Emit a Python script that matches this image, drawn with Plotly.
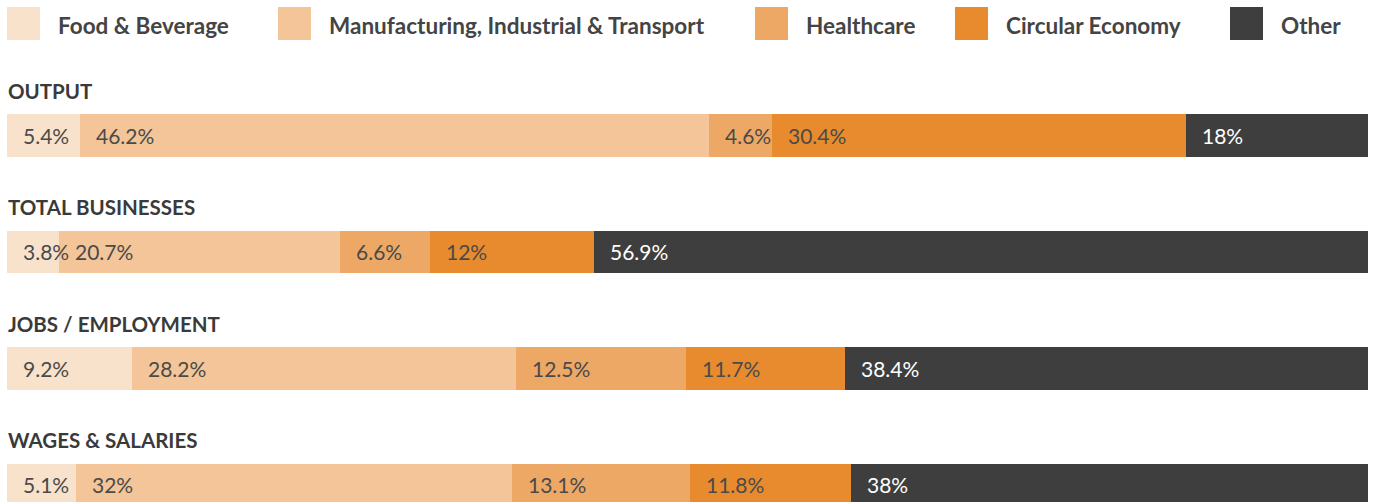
import plotly.graph_objects as go

rows = ["OUTPUT", "TOTAL BUSINESSES", "JOBS / EMPLOYMENT", "WAGES & SALARIES"]
sectors = ["Food & Beverage", "Manufacturing, Industrial & Transport", "Healthcare", "Circular Economy", "Other"]
food = [5.4, 3.8, 9.2, 5.1]
manufacturing = [46.2, 20.7, 28.2, 32.0]
healthcare = [4.6, 6.6, 12.5, 13.1]
circular = [30.4, 12.0, 11.7, 11.8]
other = [18.0, 56.9, 38.4, 38.0]
series = [food, manufacturing, healthcare, circular, other]

colors = ["#F8E2CB", "#F3C598", "#EDA866", "#E88A2E", "#3E3E3E"]
label_colors = ["#4a4a4a", "#4a4a4a", "#4a4a4a", "#4a4a4a", "#ffffff"]

W, H = 1381, 502
ML, MR = 7, 13
PW = W - ML - MR

ypos = [-i for i in range(len(rows))]

fig = go.Figure()
for name, vals, col in zip(sectors, series, colors):
    fig.add_trace(go.Bar(
        y=ypos, x=vals, name=name, orientation="h",
        marker=dict(color=col, line=dict(width=0)),
        width=0.369, showlegend=False, hoverinfo="skip",
    ))

annotations = []
# value labels
for r, y in enumerate(ypos):
    cum = 0.0
    for s, vals in enumerate(series):
        v = vals[r]
        annotations.append(dict(
            x=cum, y=y, xref="x", yref="y", text=f"{v:g}%",
            xanchor="left", yanchor="middle", xshift=14, showarrow=False,
            font=dict(family="Lato", size=21, color=label_colors[s]),
        ))
        cum += v
    annotations.append(dict(
        x=0, y=y + 0.382, xref="x", yref="y", text=rows[r],
        xanchor="left", yanchor="middle", showarrow=False, xshift=-1,
        font=dict(family="Lato", size=20.5, color="#3a3a3a", weight="bold"),
    ))

# custom legend
def px2paper_x(px):
    return (px - ML) / PW

def py2paper_y(py):
    return 1 - py / H

shapes = []
sq_x = [7, 278, 755, 955, 1230]
for name, col, x0 in zip(sectors, colors, sq_x):
    shapes.append(dict(
        type="rect", xref="paper", yref="paper",
        x0=px2paper_x(x0), x1=px2paper_x(x0 + 33),
        y0=py2paper_y(40), y1=py2paper_y(7),
        fillcolor=col, line=dict(width=0),
    ))
    annotations.append(dict(
        x=px2paper_x(x0 + 49), y=py2paper_y(26), xref="paper", yref="paper",
        text=name, xanchor="left", yanchor="middle", showarrow=False,
        font=dict(family="Lato", size=22.5, color="#444444", weight="bold"),
    ))

fig.update_layout(
    width=W, height=H,
    margin=dict(l=ML, r=MR, t=0, b=0),
    barmode="stack", bargap=0,
    plot_bgcolor="white", paper_bgcolor="white",
    xaxis=dict(range=[0, 100], visible=False, fixedrange=True),
    yaxis=dict(range=[-3.146, 1.163], visible=False, fixedrange=True),
    annotations=annotations, shapes=shapes,
    showlegend=False,
)

fig.write_html(
    "out.html",
    config={"displayModeBar": False, "staticPlot": True},
    post_script="document.body.style.margin='0';document.body.style.overflow='hidden';",
)
